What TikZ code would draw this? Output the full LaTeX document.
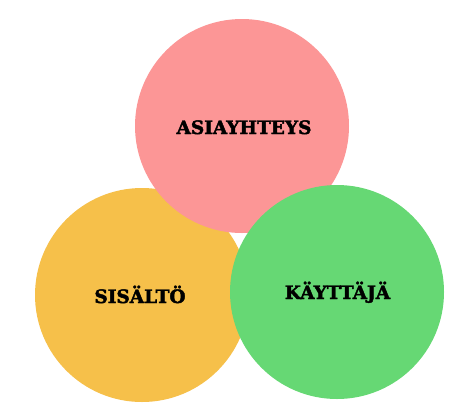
\documentclass[tikz,border=0pt]{standalone}
\usepackage{fontspec}
\newfontfamily\labelfont{DejaVu Serif}[BoldFeatures={FakeBold=2.2}]
\definecolor{pinkc}{RGB}{252,150,150}
\definecolor{orangec}{RGB}{246,192,74}
\definecolor{greenc}{RGB}{102,216,116}
\tikzset{
  blob/.style={circle, inner sep=0pt, minimum size=214pt, draw=none},
  lab/.style={anchor=base, inner sep=0pt, font=\labelfont\bfseries\fontsize{18.5}{21}\selectfont, text=black}
}
\begin{document}
\begin{tikzpicture}[x=1pt,y=-1pt]
\useasboundingbox[fill=white] (0,0) rectangle (476,413);
\node[blob, fill=orangec] (sis) at (142,295) {};
\node[blob, fill=pinkc] (asi) at (242,126) {};
\node[blob, fill=greenc] (kay) at (337,292) {};
\node[lab] (tasi) at (244,134) {ASIAYHTEYS};
\node[lab] (tsis) at (140,303) {SISÄLTÖ};
\node[lab] (tkay) at (337.5,299) {KÄYTTÄJÄ};
\end{tikzpicture}
\end{document}
